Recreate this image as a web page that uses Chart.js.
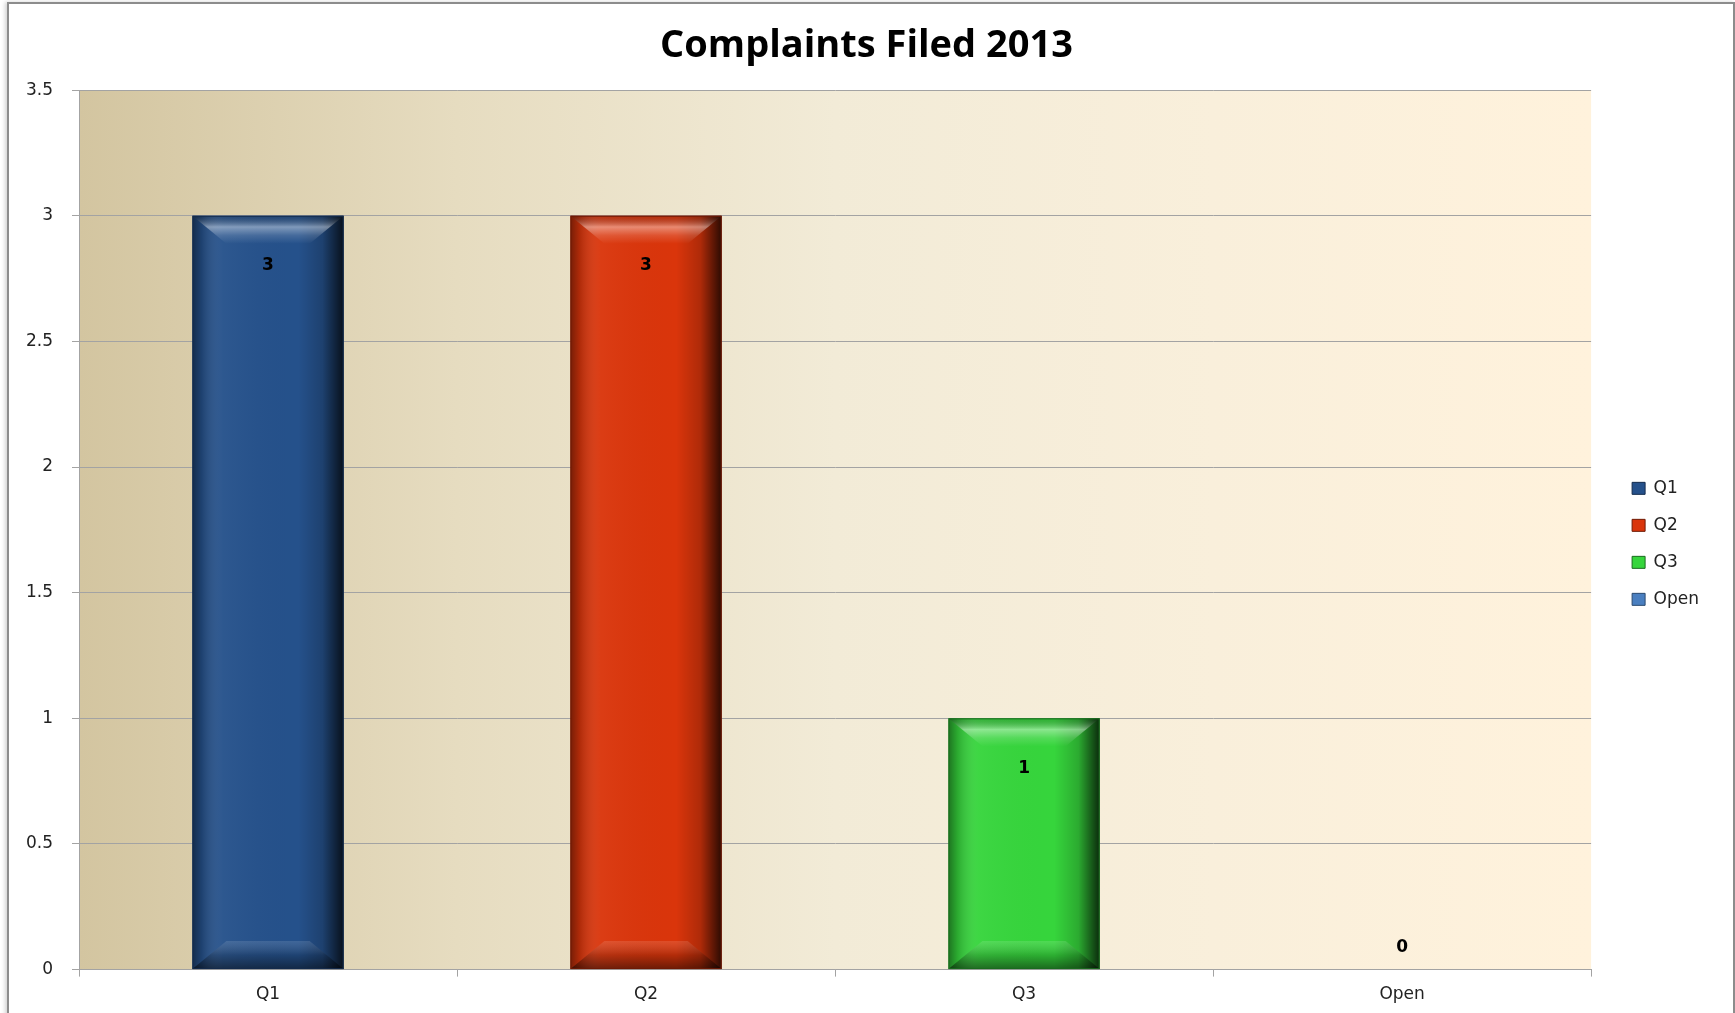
<!DOCTYPE html>
<html><head><meta charset="utf-8">
<script src="https://cdn.jsdelivr.net/npm/chart.js@4.4.1/dist/chart.umd.min.js"></script>
<style>
html,body{margin:0;padding:0;background:#fff;}
#wrap{position:relative;width:1735px;height:1013px;overflow:hidden;background:#fff;}
#frame{position:absolute;left:7px;top:2px;width:1724px;height:1040px;border:2px solid #8c8c8c;box-shadow:-2px 0 4px rgba(0,0,0,0.18);}
canvas{position:absolute;left:0;top:0;}
</style></head><body>
<div id="wrap"><div id="frame"></div><canvas id="c" width="1735" height="1013"></canvas></div>
<script>
const chartTitle = 'Complaints Filed 2013';
const categories = ['Q1', 'Q2', 'Q3', 'Open'];
const complaints = [3, 3, 1, 0];
const barColors = ['#25518b', '#da350b', '#36d53c', '#4a7fc0'];
const barEdges = ['#142c4d', '#6e1a05', '#1a6b1e', '#2a4a70'];
const yMin = 0, yMax = 3.5, yStep = 0.5;

const plotBg = {
  id: 'plotBg',
  beforeDraw(chart) {
    const {ctx, chartArea: a} = chart;
    const g = ctx.createLinearGradient(a.left, 0, a.right, 0);
    g.addColorStop(0, '#d3c5a0');
    g.addColorStop(0.25, '#e6dcc0');
    g.addColorStop(0.5, '#f2ebd7');
    g.addColorStop(0.75, '#f9efdb');
    g.addColorStop(1, '#fff2dc');
    ctx.save();
    ctx.fillStyle = g;
    ctx.fillRect(a.left, a.top, a.right - a.left, a.bottom - a.top);
    ctx.restore();
  }
};

const bevel = {
  id: 'bevel',
  afterDatasetsDraw(chart) {
    const ctx = chart.ctx;
    const meta = chart.getDatasetMeta(0);
    meta.data.forEach((el, i) => {
      const v = chart.data.datasets[0].data[i];
      const x0 = el.x - el.width / 2, x1 = el.x + el.width / 2;
      const top = el.y, bot = el.base;
      ctx.save();
      if (v > 0) {
        const sg = ctx.createLinearGradient(x0, 0, x1, 0);
        sg.addColorStop(0, 'rgba(0,0,0,0.45)');
        sg.addColorStop(0.06, 'rgba(0,0,0,0.2)');
        sg.addColorStop(0.2, 'rgba(255,255,255,0.04)');
        sg.addColorStop(0.7, 'rgba(0,0,0,0)');
        sg.addColorStop(0.86, 'rgba(0,0,0,0.2)');
        sg.addColorStop(1, 'rgba(0,0,0,0.8)');
        ctx.fillStyle = sg;
        ctx.fillRect(x0, top, x1 - x0, bot - top);
        const d = 28, ins = 34;
        const tg = ctx.createLinearGradient(0, top, 0, top + d);
        tg.addColorStop(0, 'rgba(0,0,0,0.15)');
        tg.addColorStop(0.4, 'rgba(255,255,255,0.42)');
        tg.addColorStop(0.7, 'rgba(255,255,255,0.15)');
        tg.addColorStop(1, 'rgba(255,255,255,0.0)');
        ctx.beginPath();
        ctx.moveTo(x0, top); ctx.lineTo(x1, top);
        ctx.lineTo(x1 - ins, top + d); ctx.lineTo(x0 + ins, top + d);
        ctx.closePath();
        ctx.fillStyle = tg; ctx.fill();
        const bg = ctx.createLinearGradient(0, bot - d, 0, bot);
        bg.addColorStop(0, 'rgba(255,255,255,0.12)');
        bg.addColorStop(0.5, 'rgba(0,0,0,0.18)');
        bg.addColorStop(1, 'rgba(0,0,0,0.5)');
        ctx.beginPath();
        ctx.moveTo(x0, bot); ctx.lineTo(x1, bot);
        ctx.lineTo(x1 - ins, bot - d); ctx.lineTo(x0 + ins, bot - d);
        ctx.closePath();
        ctx.fillStyle = bg; ctx.fill();
        ctx.strokeStyle = barEdges[i];
        ctx.lineWidth = 1;
        ctx.strokeRect(x0 + 0.5, top + 0.5, x1 - x0 - 1, bot - top - 1);
      }
      ctx.fillStyle = '#000';
      ctx.font = 'bold 17px "DejaVu Sans"';
      ctx.textAlign = 'center';
      ctx.textBaseline = 'middle';
      const ly = v > 0 ? top + 50 : bot - 22;
      ctx.fillText(String(v), el.x, ly);
      ctx.restore();
    });
  }
};

Chart.defaults.font.family = '"DejaVu Sans", sans-serif';
Chart.defaults.color = '#222';

new Chart(document.getElementById('c'), {
  type: 'bar',
  data: {
    labels: categories,
    datasets: [{
      label: 'Complaints',
      data: complaints,
      backgroundColor: barColors,
      borderWidth: 0,
      barPercentage: 0.4,
      categoryPercentage: 1.0
    }]
  },
  options: {
    responsive: false,
    animation: false,
    devicePixelRatio: 1,
    layout: { padding: { left: 24, right: 26, top: 0, bottom: 0 } },
    plugins: {
      title: {
        display: true,
        text: chartTitle,
        color: '#000',
        font: { family: '"Open Sans"', size: 38, weight: 'bold' },
        padding: { top: 23, bottom: 21.5 }
      },
      legend: {
        position: 'right',
        fullSize: false,
        onClick: null,
        title: { display: true, text: '', font: { size: 10 }, padding: { top: 0, bottom: 16 } },
        labels: {
          boxWidth: 13,
          boxHeight: 12,
          padding: 20,
          color: '#222',
          font: { size: 17 },
          generateLabels: () => categories.map((c, i) => ({
            text: c,
            fillStyle: barColors[i],
            strokeStyle: barEdges[i],
            lineWidth: 1,
            hidden: false,
            index: i,
            datasetIndex: 0
          }))
        }
      },
      tooltip: { enabled: false }
    },
    scales: {
      x: {
        offset: true,
        grid: { display: true, drawOnChartArea: false, drawTicks: true, tickLength: 7, color: '#a3a3a3', offset: true },
        border: { display: true, color: '#a3a3a3' },
        ticks: { padding: 8, font: { size: 17 }, color: '#222' }
      },
      y: {
        min: yMin, max: yMax,
        afterFit: s => { s.width = 55; },
        grid: { color: '#a3a3a3', tickLength: 7, drawTicks: true },
        border: { display: true, color: '#a3a3a3' },
        ticks: { stepSize: yStep, padding: 19, font: { size: 17 }, color: '#222', callback: v => String(+v) }
      },
      yR: {
        position: 'right',
        display: true,
        afterFit: s => { s.width = 21; },
        grid: { display: false, drawTicks: false },
        border: { display: false },
        ticks: { display: false }
      }
    }
  },
  plugins: [plotBg, bevel]
});
</script>
</body></html>
